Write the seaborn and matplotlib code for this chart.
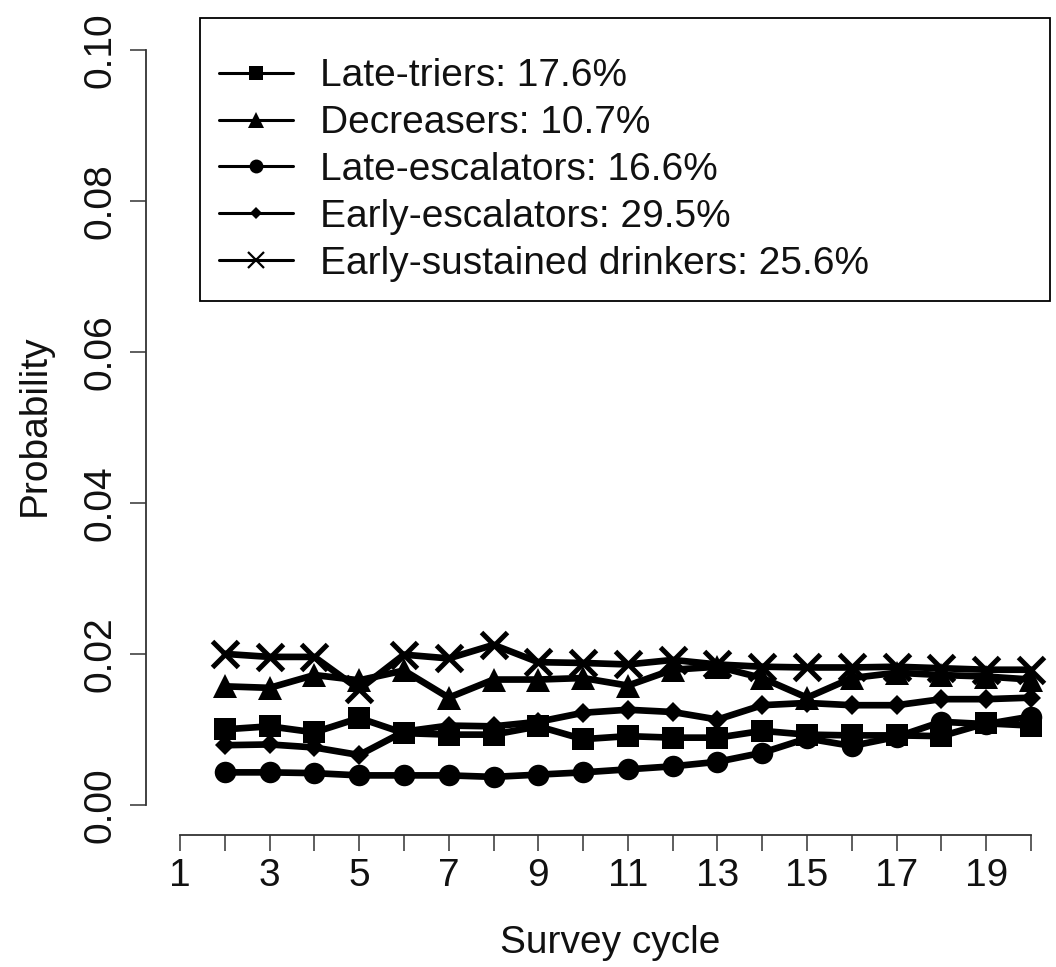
import numpy as np
import pandas as pd
import matplotlib
matplotlib.use("Agg")
import matplotlib.pyplot as plt
from matplotlib.lines import Line2D
import seaborn as sns

# ---------------- data ----------------
cycles = list(range(2, 21))
late_triers = [0.0100, 0.0104, 0.0096, 0.0115, 0.0095, 0.0093, 0.0093, 0.0104, 0.0087, 0.0091,
               0.0089, 0.0089, 0.0098, 0.0093, 0.0092, 0.0092, 0.0091, 0.0108, 0.0105]
decreasers = [0.0157, 0.0155, 0.0172, 0.0165, 0.0178, 0.0142, 0.0166, 0.0166, 0.0168, 0.0158,
              0.0179, 0.0183, 0.0168, 0.0142, 0.0168, 0.0175, 0.0172, 0.0170, 0.0166]
late_escalators = [0.0043, 0.0043, 0.0042, 0.0039, 0.0039, 0.0039, 0.0037, 0.0040, 0.0043, 0.0047,
                   0.0051, 0.0057, 0.0069, 0.0088, 0.0078, 0.0090, 0.0110, 0.0107, 0.0117]
early_escalators = [0.0079, 0.0080, 0.0076, 0.0066, 0.0097, 0.0105, 0.0104, 0.0110, 0.0122, 0.0126,
                    0.0123, 0.0113, 0.0132, 0.0135, 0.0132, 0.0132, 0.0140, 0.0140, 0.0142]
early_sustained = [0.0200, 0.0196, 0.0196, 0.0153, 0.0199, 0.0194, 0.0212, 0.0189, 0.0188, 0.0186,
                   0.0192, 0.0186, 0.0183, 0.0182, 0.0182, 0.0183, 0.0181, 0.0179, 0.0179]

series_labels = ["Late-triers: 17.6%", "Decreasers: 10.7%", "Late-escalators: 16.6%",
                 "Early-escalators: 29.5%", "Early-sustained drinkers: 25.6%"]
series_values = [late_triers, decreasers, late_escalators, early_escalators, early_sustained]

x_ticks = list(range(1, 21))
x_ticklabels = [str(t) if t % 2 == 1 else "" for t in x_ticks]
y_ticks = [0.00, 0.02, 0.04, 0.06, 0.08, 0.10]
y_ticklabels = ["0.00", "0.02", "0.04", "0.06", "0.08", "0.10"]

# ---------------- styling ----------------
sns.set_theme(style="white")
plt.rcParams["font.family"] = ["Liberation Sans", "DejaVu Sans"]

W, H = 1056, 967
fig = plt.figure(figsize=(W / 100, H / 100), dpi=100)
ax = fig.add_axes([146 / W, (H - 835) / H, (1065 - 146) / W, (835 - 20) / H])

markers = ["s", "^", "o", "D", "x"]
msizes = [16, 17, 15.5, 10, 19]
mews = [0, 0, 0, 0, 3.6]
leg_msizes = [10, 11, 10, 6.5, 11]
leg_mews = [0, 0, 0, 0, 1.6]

for vals, lab, m, ms, mew in zip(series_values, series_labels, markers, msizes, mews):
    df = pd.DataFrame({"cycle": cycles, "prob": vals})
    sns.lineplot(data=df, x="cycle", y="prob", ax=ax, color="black", linewidth=4.8,
                 marker=m, markersize=ms, markeredgewidth=mew, markeredgecolor="black",
                 markerfacecolor="black", errorbar=None, legend=False)

ax.set_xlim(0.24, 20.76)
ax.set_ylim(-0.004, 0.104)

for side in ["top", "right"]:
    ax.spines[side].set_visible(False)
for side in ["left", "bottom"]:
    ax.spines[side].set_color("#333333")
    ax.spines[side].set_linewidth(1.3)
ax.spines["left"].set_bounds(0.0, 0.10)
ax.spines["bottom"].set_bounds(1, 20)

ax.set_xticks(x_ticks)
ax.set_xticklabels(x_ticklabels)
ax.set_yticks(y_ticks)
ax.set_yticklabels(y_ticklabels, rotation=90, va="center")
ax.tick_params(axis="both", which="major", direction="out", length=11.5, width=1.1,
               color="#333333", labelsize=28, labelcolor="#111111",
               bottom=True, left=True, top=False, right=False)
ax.tick_params(axis="x", pad=5)
ax.tick_params(axis="y", pad=8)
ax.grid(False)

ax.set_xlabel("Survey cycle", fontsize=28, color="#111111")
ax.set_ylabel("Probability", fontsize=28, color="#111111")
ax.xaxis.set_label_coords((610 - 146) / 919, -(925 - 835) / 815)
ax.yaxis.set_label_coords((53 - 146) / 919, (835 - 425) / 815)

handles = [Line2D([0], [0], color="black", linewidth=2.2, marker=m, markersize=ms,
                  markeredgewidth=mew, markeredgecolor="black", markerfacecolor="black")
           for m, ms, mew in zip(markers, leg_msizes, leg_mews)]
leg = ax.legend(handles, series_labels, loc="upper left",
                bbox_to_anchor=(200 / W, 0, (1050 - 200) / W, (H - 18) / H),
                bbox_transform=fig.transFigure, mode="expand", borderaxespad=0,
                fontsize=28, frameon=True, fancybox=False, framealpha=1,
                edgecolor="black", borderpad=0.5, labelspacing=0.28,
                handlelength=1.88, handletextpad=0.7,
                title=" ", title_fontsize=7)
leg.get_frame().set_linewidth(1.3)
for t in leg.get_texts():
    t.set_color("#111111")

fig.savefig("out.png", dpi=100)
